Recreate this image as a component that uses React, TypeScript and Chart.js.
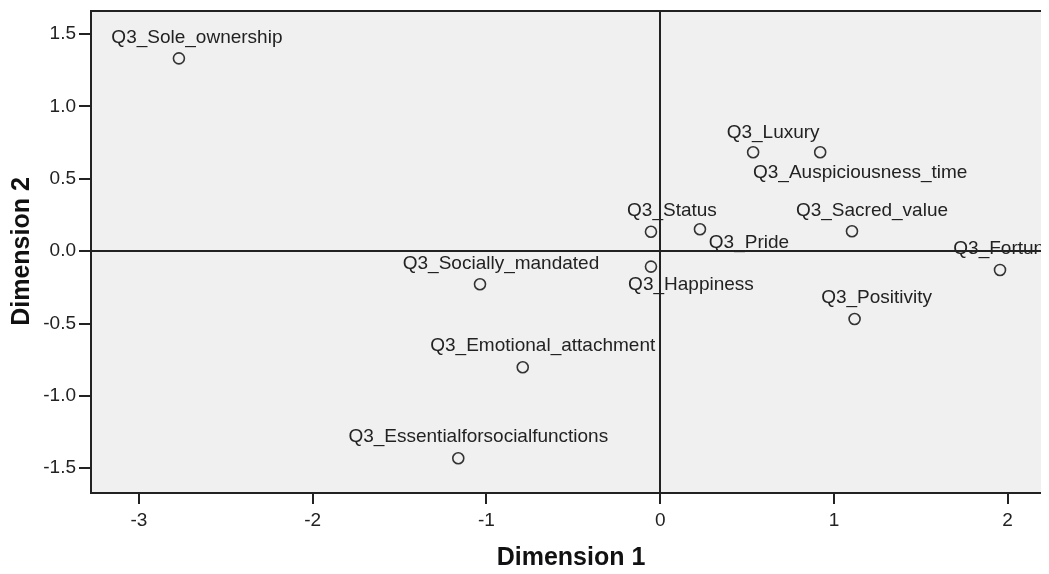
import React, { useEffect, useRef } from "react";
import { Chart, registerables } from "chart.js";

Chart.register(...registerables);

const pointLabels = [
  "Q3_Sole_ownership",
  "Q3_Luxury",
  "Q3_Auspiciousness_time",
  "Q3_Status",
  "Q3_Pride",
  "Q3_Sacred_value",
  "Q3_Fortune",
  "Q3_Happiness",
  "Q3_Positivity",
  "Q3_Socially_mandated",
  "Q3_Emotional_attachment",
  "Q3_Essentialforsocialfunctions",
];
const dimension1 = [-2.77, 0.535, 0.921, -0.053, 0.229, 1.104, 1.956, -0.053, 1.119, -1.037, -0.791, -1.162];
const dimension2 = [1.332, 0.683, 0.683, 0.134, 0.151, 0.137, -0.13, -0.107, -0.469, -0.229, -0.802, -1.431];

const xTickValues = [-3, -2, -1, 0, 1, 2];
const yTickValues = [-1.5, -1.0, -0.5, 0.0, 0.5, 1.0, 1.5];

const xTitle = "Dimension 1";
const yTitle = "Dimension 2";

// label placement offsets (pixels, relative to each point)
const labelDx = [18, 20, 40, 21, 49, 20, 4, 40, 22, 21, 20, 20];
const labelDy = [-21, -20, 20, -21, 13, -21, -21, 18, -21, -21, -21, -21];

const FONT = '"Liberation Sans", Arial, sans-serif';
const INK = "#222222";

export default function App() {
  const canvasRef = useRef<HTMLCanvasElement | null>(null);

  useEffect(() => {
    const canvas = canvasRef.current;
    if (!canvas) return;

    const bgPlugin = {
      id: "plotBg",
      beforeDraw(chart: any) {
        const { ctx, chartArea } = chart;
        ctx.save();
        ctx.fillStyle = "#f0f0f0";
        ctx.fillRect(chartArea.left, chartArea.top, chartArea.right - chartArea.left, chartArea.bottom - chartArea.top);
        ctx.restore();
      },
    };

    const labelPlugin = {
      id: "pointLabels",
      afterDatasetsDraw(chart: any) {
        const { ctx, chartArea } = chart;
        const meta = chart.getDatasetMeta(0);
        ctx.save();
        ctx.beginPath();
        ctx.rect(chartArea.left, chartArea.top, chartArea.right - chartArea.left, chartArea.bottom - chartArea.top);
        ctx.clip();
        ctx.font = `19px ${FONT}`;
        ctx.fillStyle = INK;
        ctx.textAlign = "center";
        ctx.textBaseline = "middle";
        meta.data.forEach((el: any, i: number) => {
          ctx.fillText(pointLabels[i], el.x + labelDx[i], el.y + labelDy[i]);
        });
        ctx.restore();
      },
      afterDraw(chart: any) {
        const { ctx, chartArea } = chart;
        ctx.save();
        // top frame line
        ctx.strokeStyle = INK;
        ctx.lineWidth = 2;
        ctx.beginPath();
        ctx.moveTo(chartArea.left - 1, chartArea.top);
        ctx.lineTo(chartArea.right, chartArea.top);
        ctx.stroke();
        // axis titles
        ctx.fillStyle = "#111111";
        ctx.font = `bold 25px ${FONT}`;
        ctx.textAlign = "center";
        ctx.textBaseline = "middle";
        ctx.fillText(xTitle, 563, 550);
        ctx.translate(14.5, 243.5);
        ctx.rotate(-Math.PI / 2);
        ctx.fillText(yTitle, 0, 0);
        ctx.restore();
      },
    };

    const chart = new Chart(canvas, {
      type: "scatter",
      data: {
        datasets: [
          {
            data: dimension1.map((x, i) => ({ x, y: dimension2[i] })),
            pointRadius: 5.5,
            pointHoverRadius: 5.5,
            pointBorderWidth: 1.6,
            borderColor: "#333333",
            backgroundColor: "rgba(0,0,0,0)",
            pointStyle: "circle",
          },
        ],
      },
      options: {
        animation: false,
        responsive: false,
        devicePixelRatio: 1,
        layout: { autoPadding: false, padding: { top: 3, right: 0, left: 0, bottom: 0 } },
        plugins: {
          legend: { display: false },
          tooltip: { enabled: false },
          title: { display: false },
        },
        scales: {
          x: {
            type: "linear",
            min: -3.276,
            max: 2.238,
            afterFit(scale: any) {
              scale.height = 81;
              scale.paddingLeft = 0;
              scale.paddingRight = 0;
            },
            afterBuildTicks(scale: any) {
              scale.ticks = xTickValues.map((v) => ({ value: v }));
            },
            border: { display: true, color: INK, width: 2 },
            grid: {
              drawOnChartArea: true,
              color: (c: any) => (c.tick && c.tick.value === 0 ? INK : "rgba(0,0,0,0)"),
              lineWidth: 2,
              tickColor: INK,
              tickLength: 11,
              tickWidth: 2,
            },
            ticks: {
              color: INK,
              font: { family: FONT, size: 19 },
              padding: 5,
              maxRotation: 0,
              autoSkip: false,
              callback: (v: any) => String(v),
            },
          },
          y: {
            type: "linear",
            min: -1.671,
            max: 1.659,
            afterFit(scale: any) {
              scale.width = 83;
              scale.paddingTop = 0;
              scale.paddingBottom = 0;
            },
            afterBuildTicks(scale: any) {
              scale.ticks = yTickValues.map((v) => ({ value: v }));
            },
            border: { display: true, color: INK, width: 2 },
            grid: {
              drawOnChartArea: true,
              color: (c: any) => (c.tick && c.tick.value === 0 ? INK : "rgba(0,0,0,0)"),
              lineWidth: 2,
              tickColor: INK,
              tickLength: 12,
              tickWidth: 2,
            },
            ticks: {
              color: INK,
              font: { family: FONT, size: 19 },
              padding: 3,
              autoSkip: false,
              callback: (v: any) => Number(v).toFixed(1),
            },
          },
        },
      },
      plugins: [bgPlugin, labelPlugin],
    });

    return () => chart.destroy();
  }, []);

  return (
    <div style={{ width: 1041, height: 558 }}>
      <canvas ref={canvasRef} width={1041} height={566} style={{ display: "block" }} />
    </div>
  );
}
